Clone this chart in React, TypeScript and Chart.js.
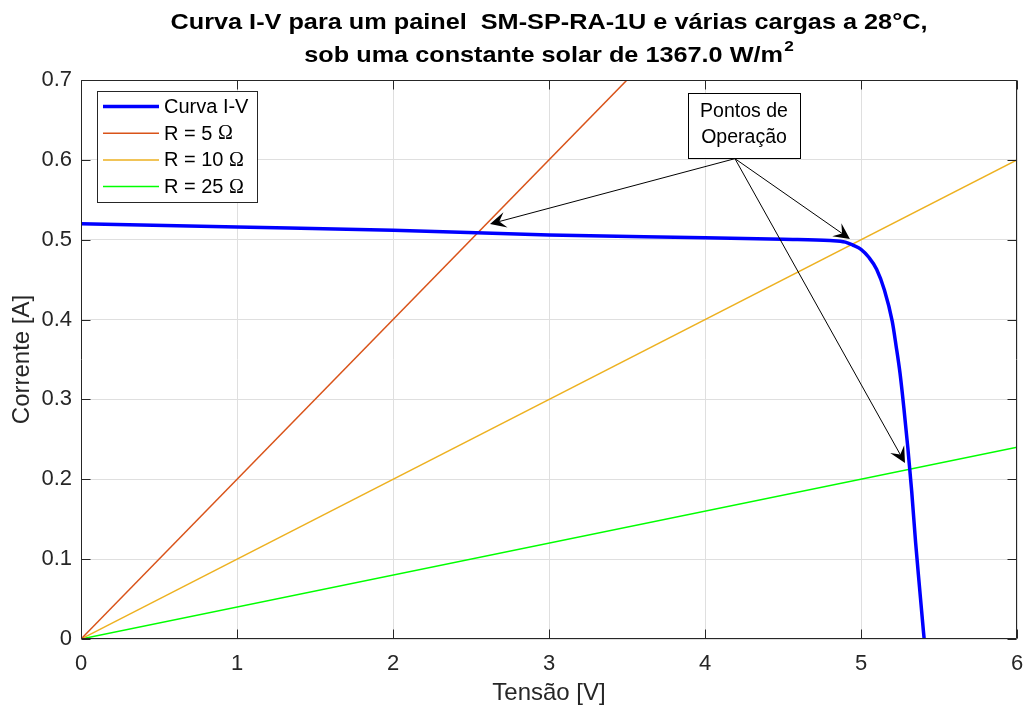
import React, { useEffect, useRef } from 'react';
import { Chart, registerables } from 'chart.js';

Chart.register(...registerables);

const FONT = '"Liberation Sans", Arial, Helvetica, sans-serif';

// I-V curve of the panel
const ivVoltage = [0, 1, 2, 3, 4, 4.5, 4.8, 4.9, 4.95, 5.0, 5.05, 5.1, 5.15, 5.2, 5.225, 5.25, 5.275, 5.3, 5.325, 5.35, 5.375, 5.4, 5.405];
const ivCurrent = [0.52, 0.516, 0.512, 0.506, 0.5025, 0.5005, 0.499, 0.497, 0.493, 0.488, 0.478, 0.463, 0.437, 0.398, 0.367, 0.333, 0.289, 0.24, 0.185, 0.121, 0.065, 0.01, 0];

// load lines I = V / R
const loadVoltage = [0, 6];
const loadR5 = [0, 1.2];
const loadR10 = [0, 0.6];
const loadR25 = [0, 0.24];

const seriesLabels = ['Curva I-V', 'R = 5 Ω', 'R = 10 Ω', 'R = 25 Ω'];

const xTicks = [0, 1, 2, 3, 4, 5, 6];
const yTicks = [0, 0.1, 0.2, 0.3, 0.4, 0.5, 0.6, 0.7];
const yTickLabels = ['0', '0.1', '0.2', '0.3', '0.4', '0.5', '0.6', '0.7'];

const titleLine1 = 'Curva I-V para um painel  SM-SP-RA-1U e várias cargas a 28°C,';
const titleLine2 = 'sob uma constante solar de 1367.0 W/m';
const titleSup = '2';
const xLabel = 'Tensão [V]';
const yLabel = 'Corrente [A]';

const annotationText = ['Pontos de', 'Operação'];
// operating points pointed to by the arrows (V, I)
const arrowTipV = [2.622, 4.929, 5.282];
const arrowTipI = [0.5197, 0.501, 0.2204];

// annotation layout (data units)
const annBox = { v0: 3.891, v1: 4.609, i0: 0.6837, i1: 0.6025 };
const arrowStart = { v: 4.192, i: 0.6015 };

const COLORS = ['#0000FF', '#D95319', '#EDB120', '#00FF00'];

const makePts = (xs: number[], ys: number[]) => xs.map((v, i) => ({ x: v, y: ys[i] }));

const matlabPlugin = {
  id: 'matlabDecor',
  afterDatasetsDraw(chart: any) {
    const { ctx, chartArea: a, scales } = chart;
    const x = scales.x;
    const y = scales.y;
    ctx.save();
    const L = Math.round(a.left) + 0.5;
    const R = Math.round(a.right) - 0.5;
    const T = Math.round(a.top) + 0.5;
    const B = Math.round(a.bottom) - 0.5;

    // axes box
    ctx.strokeStyle = '#262626';
    ctx.lineWidth = 1;
    ctx.beginPath();
    ctx.rect(L, T, R - L, B - T);
    ctx.stroke();

    // inward ticks
    const tl = 9;
    ctx.beginPath();
    xTicks.forEach((v) => {
      const px = Math.round(x.getPixelForValue(v)) + 0.5;
      ctx.moveTo(px, B); ctx.lineTo(px, B - tl);
      ctx.moveTo(px, T); ctx.lineTo(px, T + tl);
    });
    yTicks.forEach((v) => {
      const py = Math.round(y.getPixelForValue(v)) + 0.5;
      ctx.moveTo(L, py); ctx.lineTo(L + tl, py);
      ctx.moveTo(R, py); ctx.lineTo(R - tl, py);
    });
    ctx.stroke();

    // legend
    const bx = a.left + 16;
    const by = a.top + 11;
    const bw = 160;
    const bh = 111;
    ctx.fillStyle = '#ffffff';
    ctx.fillRect(bx, by, bw, bh);
    ctx.strokeStyle = '#262626';
    ctx.lineWidth = 1;
    ctx.strokeRect(Math.round(bx) + 0.5, Math.round(by) + 0.5, bw, bh);
    chart.data.datasets.forEach((ds: any, i: number) => {
      const ry = by + 15.5 + i * 26.7;
      ctx.strokeStyle = ds.borderColor;
      ctx.lineWidth = ds.borderWidth;
      ctx.beginPath();
      ctx.moveTo(bx + 6, ry);
      ctx.lineTo(bx + 62, ry);
      ctx.stroke();
      ctx.fillStyle = '#000000';
      ctx.textBaseline = 'middle';
      ctx.textAlign = 'left';
      const label: string = ds.label;
      if (label.endsWith('Ω')) {
        const main = label.slice(0, -1);
        ctx.font = `20px ${FONT}`;
        ctx.fillText(main, bx + 67, ry + 1);
        const w = ctx.measureText(main).width;
        ctx.font = `20px "Liberation Serif", "DejaVu Serif", serif`;
        ctx.fillText('Ω', bx + 67 + w, ry + 1);
      } else {
        ctx.font = `20px ${FONT}`;
        ctx.fillText(label, bx + 67, ry + 1);
      }
    });

    // annotation box
    const ax0 = x.getPixelForValue(annBox.v0);
    const ax1 = x.getPixelForValue(annBox.v1);
    const ay0 = y.getPixelForValue(annBox.i0);
    const ay1 = y.getPixelForValue(annBox.i1);
    ctx.fillStyle = '#ffffff';
    ctx.fillRect(ax0, ay0, ax1 - ax0, ay1 - ay0);
    ctx.strokeStyle = '#000000';
    ctx.lineWidth = 1;
    ctx.strokeRect(Math.round(ax0) + 0.5, Math.round(ay0) + 0.5, Math.round(ax1 - ax0), Math.round(ay1 - ay0));
    ctx.fillStyle = '#000000';
    ctx.font = `19.5px ${FONT}`;
    ctx.textAlign = 'center';
    ctx.textBaseline = 'middle';
    const acx = (ax0 + ax1) / 2;
    ctx.fillText(annotationText[0], acx, ay0 + 19);
    ctx.fillText(annotationText[1], acx, ay0 + 45);

    // arrows
    const sx = x.getPixelForValue(arrowStart.v);
    const sy = y.getPixelForValue(arrowStart.i);
    arrowTipV.forEach((v, i) => {
      const tx = x.getPixelForValue(v);
      const ty = y.getPixelForValue(arrowTipI[i]);
      const dx = tx - sx;
      const dy = ty - sy;
      const len = Math.hypot(dx, dy);
      const ux = dx / len;
      const uy = dy / len;
      const nx = -uy;
      const ny = ux;
      const hl = 16;
      const hw = 8;
      ctx.strokeStyle = '#000000';
      ctx.lineWidth = 1;
      ctx.beginPath();
      ctx.moveTo(sx, sy);
      ctx.lineTo(tx - ux * hl * 0.6, ty - uy * hl * 0.6);
      ctx.stroke();
      ctx.fillStyle = '#000000';
      ctx.beginPath();
      ctx.moveTo(tx, ty);
      ctx.lineTo(tx - ux * hl + nx * hw, ty - uy * hl + ny * hw);
      ctx.lineTo(tx - ux * hl * 0.6, ty - uy * hl * 0.6);
      ctx.lineTo(tx - ux * hl - nx * hw, ty - uy * hl - ny * hw);
      ctx.closePath();
      ctx.fill();
    });

    // axis labels
    ctx.fillStyle = '#262626';
    ctx.font = `24px ${FONT}`;
    ctx.textAlign = 'center';
    ctx.textBaseline = 'middle';
    ctx.fillText(xLabel, (a.left + a.right) / 2, 693);
    ctx.save();
    ctx.translate(22, (a.top + a.bottom) / 2);
    ctx.rotate(-Math.PI / 2);
    ctx.fillText(yLabel, 0, 0);
    ctx.restore();

    // title (slightly wide lettering, as in the reference)
    ctx.fillStyle = '#000000';
    const cx = (a.left + a.right) / 2;
    ctx.font = `bold 22px ${FONT}`;
    const w1 = ctx.measureText(titleLine1).width;
    const sc = 757 / w1;
    const w2 = ctx.measureText(titleLine2).width;
    ctx.font = `bold 15px ${FONT}`;
    const ws = ctx.measureText(titleSup).width;
    ctx.save();
    ctx.translate(cx, 0);
    ctx.scale(sc, 1);
    ctx.textAlign = 'center';
    ctx.textBaseline = 'alphabetic';
    ctx.font = `bold 22px ${FONT}`;
    ctx.fillText(titleLine1, 0, 29);
    const start = -(w2 + ws + 1) / 2;
    ctx.textAlign = 'left';
    ctx.fillText(titleLine2, start, 62);
    ctx.font = `bold 15px ${FONT}`;
    ctx.fillText(titleSup, start + w2 + 1, 51);
    ctx.restore();

    ctx.restore();
  },
};

export default function App() {
  const ref = useRef<HTMLCanvasElement | null>(null);
  useEffect(() => {
    if (!ref.current) return;
    const lineDs = (label: string, xs: number[], ys: number[], color: string, width: number) => ({
      label,
      data: makePts(xs, ys),
      borderColor: color,
      backgroundColor: color,
      borderWidth: width,
      pointRadius: 0,
      fill: false,
      tension: 0,
    });
    const chart = new Chart(ref.current, {
      type: 'line',
      data: {
        datasets: [
          { ...lineDs(seriesLabels[0], ivVoltage, ivCurrent, COLORS[0], 3.5), cubicInterpolationMode: 'monotone' },
          lineDs(seriesLabels[1], loadVoltage, loadR5, COLORS[1], 1.5),
          lineDs(seriesLabels[2], loadVoltage, loadR10, COLORS[2], 1.5),
          lineDs(seriesLabels[3], loadVoltage, loadR25, COLORS[3], 1.5),
        ] as any,
      },
      options: {
        animation: false,
        responsive: true,
        maintainAspectRatio: false,
        layout: { padding: { top: 80, right: 13, left: 0, bottom: 0 } },
        plugins: { legend: { display: false }, tooltip: { enabled: false }, title: { display: false } },
        scales: {
          x: {
            type: 'linear',
            min: 0,
            max: 6,
            afterBuildTicks: (s: any) => { s.ticks = xTicks.map((v) => ({ value: v })); },
            afterFit: (s: any) => { s.height = 70; s.paddingLeft = 0; s.paddingRight = 0; },
            ticks: {
              color: '#262626',
              font: { family: FONT, size: 22 },
              padding: 12,
              maxRotation: 0,
              callback: (v: any) => String(v),
            },
            grid: { color: '#dfdfdf', lineWidth: 1, drawTicks: false },
            border: { display: false },
          },
          y: {
            type: 'linear',
            min: 0,
            max: 0.7,
            afterBuildTicks: (s: any) => { s.ticks = yTicks.map((v) => ({ value: v })); },
            afterFit: (s: any) => { s.width = 81; s.paddingTop = 0; s.paddingBottom = 0; },
            ticks: {
              color: '#262626',
              font: { family: FONT, size: 22 },
              padding: 9,
              callback: (v: any) => {
                const idx = yTicks.findIndex((t) => Math.abs(t - Number(v)) < 1e-9);
                return idx >= 0 ? yTickLabels[idx] : '';
              },
            },
            grid: { color: '#dfdfdf', lineWidth: 1, drawTicks: false },
            border: { display: false },
          },
        },
      },
      plugins: [matlabPlugin],
    });
    return () => chart.destroy();
  }, []);
  return (
    <div style={{ position: 'absolute', left: 0, top: 0, width: 1030, height: 709, background: '#ffffff' }}>
      <canvas ref={ref} />
    </div>
  );
}
